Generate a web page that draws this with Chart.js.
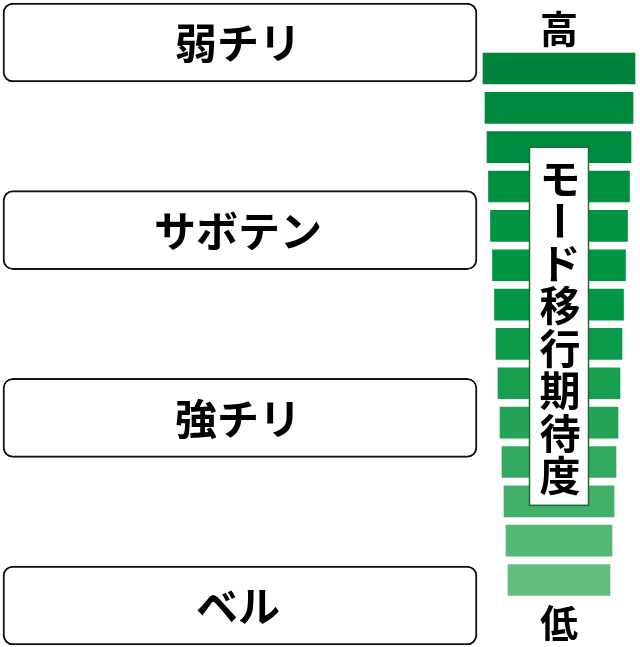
<!DOCTYPE html>
<html lang="ja">
<head>
<meta charset="utf-8">
<title>モード移行期待度</title>
<script src="https://cdn.jsdelivr.net/npm/chart.js@4.4.1/dist/chart.umd.min.js"></script>
<style>
  body { margin: 0; background: #fff; }
  #wrap { position: relative; width: 640px; height: 647px; }
  #roles { position: absolute; left: 0; top: 0; }
  #meter { position: absolute; left: 478px; top: 0; }
</style>
</head>
<body>
<div id="wrap">
  <canvas id="roles" width="480" height="647"></canvas>
  <canvas id="meter" width="162" height="647"></canvas>
</div>
<script>
// ======================================== data
const roles = ["弱チリ", "サボテン", "強チリ", "ベル"];
const roleSpan = [0, 1];

const levels = ["14", "13", "12", "11", "10", "9", "8", "7", "6", "5", "4", "3", "2", "1"];
// half width of each step of the meter, top (high) to bottom (low)
const expectation = [76, 74, 72, 70.5, 68.5, 66.5, 64.5, 63, 61, 59, 57, 55, 53, 51];

const meterTitle = "モード移行期待度";
const highLabel = "高";
const lowLabel = "低";

// ======================================== styles
const FONT = '"Noto Sans CJK JP", "Noto Sans", sans-serif';
const stepColors = [
  "#00843c", "#00883e", "#008c40", "#009041", "#009343", "#009544", "#029746",
  "#0b9a49", "#179e4f", "#24a356", "#32a95f", "#42b06a", "#52b675", "#63bd81"
];

// ======================================== left: role boxes
const roleLabels = {
  id: "roleLabels",
  afterDatasetsDraw(chart) {
    const ctx = chart.ctx;
    const x = chart.scales.x;
    const y = chart.scales.y;
    ctx.save();
    ctx.fillStyle = "#000";
    ctx.font = "bold 42px " + FONT;
    ctx.textAlign = "center";
    ctx.textBaseline = "middle";
    roles.forEach(function (name, i) {
      ctx.fillText(name, x.getPixelForValue(0.5) - 2, y.getPixelForValue(i) + 1);
    });
    ctx.restore();
  }
};

new Chart(document.getElementById("roles").getContext("2d"), {
  type: "bar",
  data: {
    labels: roles,
    datasets: [
      {
        data: roles.map(function () { return roleSpan; }),
        backgroundColor: "#ffffff",
        borderColor: "#111111",
        borderWidth: 2,
        borderRadius: 10,
        borderSkipped: false,
        barThickness: 79,
        clip: false
      }
    ]
  },
  options: {
    indexAxis: "y",
    responsive: false,
    animation: false,
    layout: { padding: { left: 3, right: 3, top: 42.5, bottom: 41.5 } },
    plugins: { legend: { display: false }, tooltip: { enabled: false } },
    scales: {
      x: { type: "linear", min: 0, max: 1, display: false },
      y: { type: "category", offset: false, display: false, grid: { display: false } }
    }
  },
  plugins: [roleLabels]
});

// ======================================== right: expectation meter
const meterDecor = {
  id: "meterDecor",
  afterDatasetsDraw(chart) {
    const ctx = chart.ctx;
    const x = chart.scales.x;
    const y = chart.scales.y;
    const cx = x.getPixelForValue(0);
    const top = y.getPixelForValue(2);
    const bottom = y.getPixelForValue(11) + 4;

    ctx.save();
    ctx.fillStyle = "#ffffff";
    ctx.fillRect(cx - 29.5, top, 59, bottom - top);
    ctx.strokeStyle = "#1d6b38";
    ctx.lineWidth = 1.5;
    ctx.strokeRect(cx - 29.5, top, 59, bottom - top);

    ctx.fillStyle = "#000";
    ctx.textAlign = "center";
    ctx.textBaseline = "middle";
    ctx.font = "bold 41px " + FONT;
    Array.from(meterTitle).forEach(function (ch, i) {
      const cy = top + 31 + i * 42.5;
      if (ch === "ー") {
        // long vowel mark turns upright in vertical writing
        ctx.save();
        ctx.translate(cx + 1, cy);
        ctx.rotate(Math.PI / 2);
        ctx.fillText(ch, 0, 0);
        ctx.restore();
      } else {
        ctx.fillText(ch, cx + 1, cy);
      }
    });

    ctx.font = "bold 38px " + FONT;
    ctx.fillText(highLabel, cx, y.getPixelForValue(0) - 40);
    ctx.fillText(lowLabel, cx, y.getPixelForValue(levels.length - 1) + 43);
    ctx.restore();
  }
};

new Chart(document.getElementById("meter").getContext("2d"), {
  type: "bar",
  data: {
    labels: levels,
    datasets: [
      {
        data: expectation.map(function (v) { return [-v, v]; }),
        backgroundColor: stepColors,
        borderWidth: 0,
        barThickness: 31,
        clip: false
      }
    ]
  },
  options: {
    indexAxis: "y",
    responsive: false,
    animation: false,
    layout: { padding: { left: 0, right: 0, top: 68.5, bottom: 67 } },
    plugins: { legend: { display: false }, tooltip: { enabled: false } },
    scales: {
      x: { type: "linear", min: -81, max: 81, display: false },
      y: { type: "category", offset: false, display: false, grid: { display: false } }
    }
  },
  plugins: [meterDecor]
});
</script>
</body>
</html>
